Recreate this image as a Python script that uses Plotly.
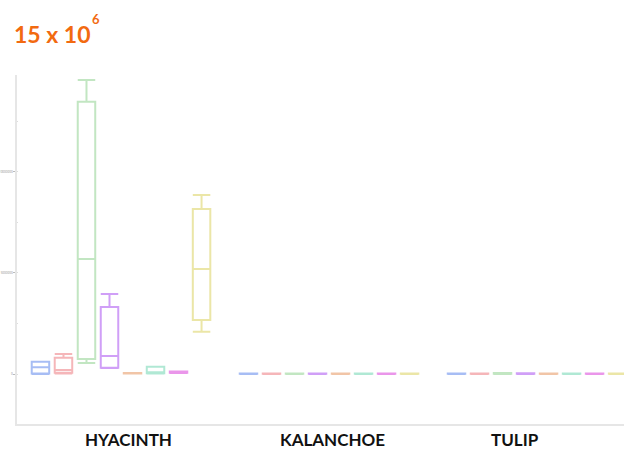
import plotly.graph_objects as go

# Plant categories on the x axis
categories = ["HYACINTH", "KALANCHOE", "TULIP"]

# Eight sample series, one box per category (values in counts)
series_names = ["S1", "S2", "S3", "S4", "S5", "S6", "S7", "S8"]
series_colors = [
    "rgba(95,135,235,0.55)",
    "rgba(235,110,115,0.50)",
    "rgba(120,200,120,0.45)",
    "rgba(170,80,240,0.55)",
    "rgba(230,150,95,0.55)",
    "rgba(80,205,160,0.45)",
    "rgba(220,80,220,0.60)",
    "rgba(215,205,80,0.50)",
]

# Box statistics per series: [HYACINTH, KALANCHOE, TULIP]
lower_fence = [
    [0.00e6, 0.00, 0.00],
    [0.02e6, 0.00, 0.00],
    [0.54e6, 0.00, 0.00],
    [0.30e6, 0.00, 0.00],
    [0.02e6, 0.00, 0.00],
    [0.03e6, 0.00, 0.00],
    [0.05e6, 0.00, 0.00],
    [2.09e6, 0.00, 0.00],
]
q1_vals = [
    [0.03e6, 0.01e6, 0.01e6],
    [0.06e6, 0.01e6, 0.01e6],
    [0.74e6, 0.01e6, 0.01e6],
    [0.31e6, 0.01e6, 0.01e6],
    [0.03e6, 0.01e6, 0.01e6],
    [0.04e6, 0.01e6, 0.01e6],
    [0.06e6, 0.01e6, 0.01e6],
    [2.67e6, 0.01e6, 0.01e6],
]
median_vals = [
    [0.33e6, 0.02e6, 0.02e6],
    [0.20e6, 0.02e6, 0.02e6],
    [5.69e6, 0.02e6, 0.03e6],
    [0.89e6, 0.02e6, 0.02e6],
    [0.04e6, 0.02e6, 0.02e6],
    [0.08e6, 0.02e6, 0.02e6],
    [0.08e6, 0.02e6, 0.02e6],
    [5.20e6, 0.02e6, 0.02e6],
]
q3_vals = [
    [0.61e6, 0.03e6, 0.03e6],
    [0.81e6, 0.03e6, 0.03e6],
    [13.47e6, 0.03e6, 0.05e6],
    [3.32e6, 0.03e6, 0.04e6],
    [0.05e6, 0.03e6, 0.03e6],
    [0.36e6, 0.03e6, 0.03e6],
    [0.12e6, 0.03e6, 0.03e6],
    [8.17e6, 0.03e6, 0.03e6],
]
upper_fence = [
    [0.61e6, 0.03e6, 0.03e6],
    [0.99e6, 0.03e6, 0.03e6],
    [14.55e6, 0.03e6, 0.05e6],
    [3.96e6, 0.03e6, 0.04e6],
    [0.05e6, 0.03e6, 0.03e6],
    [0.36e6, 0.03e6, 0.03e6],
    [0.12e6, 0.03e6, 0.03e6],
    [8.86e6, 0.03e6, 0.03e6],
]

# Label positions along the category axis
label_positions = [0.034, 1.019, 1.894]
y_ticks = [0, 5000000, 10000000]

fig = go.Figure()
for i, name in enumerate(series_names):
    fig.add_trace(go.Box(
        name=name,
        x=categories,
        q1=q1_vals[i],
        median=median_vals[i],
        q3=q3_vals[i],
        lowerfence=lower_fence[i],
        upperfence=upper_fence[i],
        line=dict(color=series_colors[i], width=2),
        fillcolor="rgba(255,255,255,0)",
        whiskerwidth=1,
        boxpoints=False,
        showlegend=False,
    ))

for cat, xpos in zip(categories, label_positions):
    fig.add_annotation(
        x=xpos, xref="x", y=-0.045, yref="paper", yanchor="middle",
        text=f"<b>{cat}</b>", showarrow=False,
        font=dict(family="Lato", size=17, color="#111111"),
    )

# Scale note above the value axis: base and raised exponent
fig.add_annotation(
    x=-0.009, xref="paper", xanchor="left",
    y=1.118, yref="paper", yanchor="middle",
    text="<b>15 x 10</b>", showarrow=False,
    font=dict(family="Lato", size=23, color="#f26a10"),
)
fig.add_annotation(
    x=0.12, xref="paper", xanchor="left",
    y=1.16, yref="paper", yanchor="middle",
    text="<b>6</b>", showarrow=False,
    font=dict(family="Lato", size=13, color="#f26a10"),
)

fig.update_layout(
    width=624, height=449,
    margin=dict(l=17, r=0, t=75, b=25),
    paper_bgcolor="white", plot_bgcolor="white",
    boxmode="group", boxgap=0.115, boxgroupgap=0.24,
    xaxis=dict(
        type="category", range=[-0.5, 2.418],
        showticklabels=False, ticks="", showgrid=False,
        showline=True, linecolor="#e6e6e6", linewidth=1.5,
        zeroline=False,
    ),
    yaxis=dict(
        range=[-2.475e6, 14.8e6],
        tickvals=y_ticks, ticktext=[str(v) for v in y_ticks],
        tickfont=dict(size=3, color="#888888"),
        ticks="outside", ticklen=2, tickcolor="#bbbbbb",
        minor=dict(dtick=2500000, ticks="inside", ticklen=1, tickcolor="#dddddd"),
        showgrid=False, zeroline=False,
        showline=True, linecolor="#e6e6e6", linewidth=1.5,
    ),
)

fig.write_html("out.html")
